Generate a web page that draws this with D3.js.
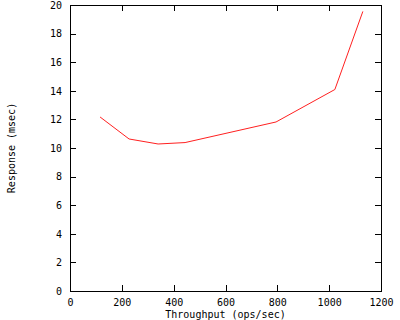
<!DOCTYPE html>
<meta charset="utf-8">
<style>
body { margin: 0; background: #fff; }
svg { display: block; }
.axis text, .label {
  font-family: "DejaVu Sans Mono", monospace;
  font-size: 10px;
  fill: #000;
}
.axis path { display: none; }
.axis line { stroke: #000; shape-rendering: crispEdges; }
.line { fill: none; stroke: #ff2020; stroke-width: 1; }
</style>
<body>
<div id="svg"></div>
<script src="https://d3js.org/d3.v7.min.js"></script>
<script>

// data
var throughput = [116, 228, 340, 444, 795, 1022, 1130];
var response   = [12.17, 10.63, 10.28, 10.38, 11.82, 14.09, 19.55];
var xTicks = [0, 200, 400, 600, 800, 1000, 1200];
var yTicks = [0, 2, 4, 6, 8, 10, 12, 14, 16, 18, 20];

var margin = {top: 5, right: 19, bottom: 29, left: 70},
    width = 400 - margin.left - margin.right,
    height = 320 - margin.top - margin.bottom;

var x = d3.scaleLinear().domain([0, 1200]).range([0, width]);
var y = d3.scaleLinear().domain([0, 20]).range([height, 0]);

var svg = d3.select("#svg").append("svg")
    .attr("width", 400)
    .attr("height", 320)
  .append("g")
    .attr("transform", "translate(" + margin.left + "," + margin.top + ")");

// ticks on all four sides, pointing inward
svg.append("g")
    .attr("class", "axis")
    .attr("transform", "translate(0," + height + ")")
    .call(d3.axisBottom(x).tickValues(xTicks).tickSize(-6).tickPadding(8)
      .tickFormat(d3.format("d")));

svg.append("g")
    .attr("class", "axis")
    .call(d3.axisLeft(y).tickValues(yTicks).tickSize(-6).tickPadding(8)
      .tickFormat(d3.format("d")));

svg.append("g")
    .attr("class", "axis")
    .call(d3.axisTop(x).tickValues(xTicks).tickSize(-6).tickFormat(""));

svg.append("g")
    .attr("class", "axis")
    .attr("transform", "translate(" + width + ",0)")
    .call(d3.axisRight(y).tickValues(yTicks).tickSize(-6).tickFormat(""));

// border
svg.append("rect")
    .attr("x", 0.5)
    .attr("y", 0.5)
    .attr("width", width)
    .attr("height", height)
    .attr("fill", "none")
    .attr("stroke", "#000")
    .attr("shape-rendering", "crispEdges");

var data = throughput.map(function(d, i) { return {t: d, r: response[i]}; });

var valueline = d3.line()
    .x(function(d) { return x(d.t); })
    .y(function(d) { return y(d.r); });

svg.append("path")
    .datum(data)
    .attr("class", "line")
    .attr("d", valueline);

// axis labels
svg.append("text")
    .attr("class", "label")
    .attr("x", width / 2)
    .attr("y", height + 26.5)
    .attr("text-anchor", "middle")
    .text("Throughput (ops/sec)");

svg.append("text")
    .attr("class", "label")
    .attr("transform", "translate(" + (15 - margin.left) + "," + (height / 2) + ") rotate(-90)")
    .attr("text-anchor", "middle")
    .text("Response (msec)");

</script>
</body>
